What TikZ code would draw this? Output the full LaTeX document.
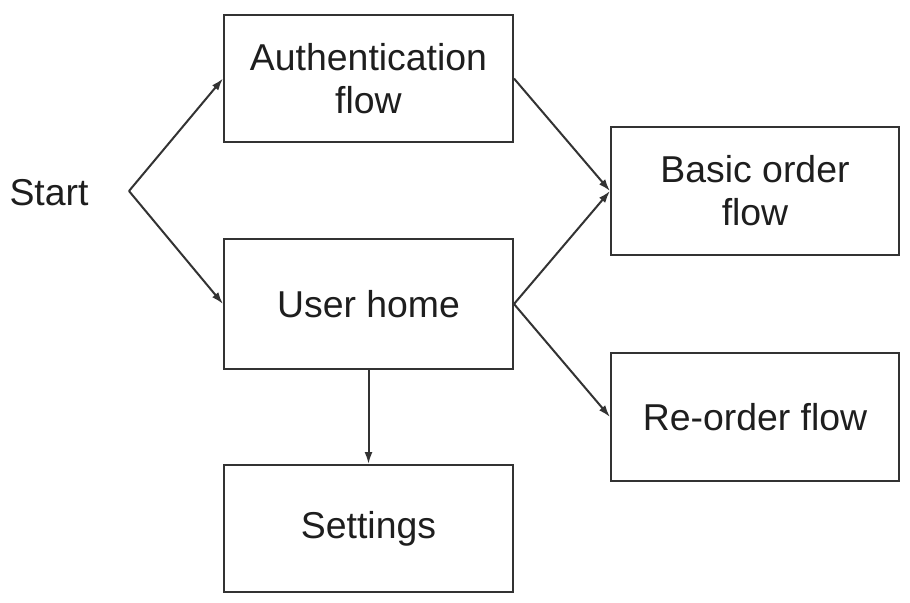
\documentclass[tikz,border=0pt]{standalone}
\usepackage{fontspec}
\setmainfont{Liberation Sans}
\usetikzlibrary{arrows.meta}
\definecolor{linec}{HTML}{333333}
\definecolor{textc}{HTML}{1E1E1E}
\begin{document}
\begin{tikzpicture}[x=0.5pt,y=-0.5pt,
  box/.style={draw=linec, line width=1pt, fill=white, minimum width=144.5pt, minimum height=63.5pt,
    inner sep=0pt, align=center, text=textc, font=\fontsize{18.7}{21.5}\selectfont},
  conn/.style={draw=linec, line width=1pt, -{Latex[length=6pt,width=4pt]}}]
\useasboundingbox (0,0) rectangle (910,602);
\node[text=textc, font=\fontsize{18.7}{21.5}\selectfont] (start) at (49,193) {Start};
\coordinate (fork) at (129,191);
\node[box] (auth) at (368.5,78.5) {\raisebox{-1pt}{\parbox{140pt}{\centering Authentication\\flow}}};
\node[box, minimum height=65pt] (user) at (368.5,304) {User home};
\node[box] (settings) at (368.5,528.5) {Settings};
\node[box, minimum width=144pt, minimum height=64pt] (basic) at (755,191) {\raisebox{-1pt}{\parbox{140pt}{\centering Basic order\\flow}}};
\node[box, minimum width=144pt, minimum height=64pt] (reorder) at (755,417) {Re-order flow};
\draw[conn] (fork) -- (auth.west);
\draw[conn] (fork) -- (user.west);
\draw[conn] (auth.east) -- (basic.west);
\draw[conn] (user.east) -- (basic.west);
\draw[conn] (user.east) -- (reorder.west);
\draw[conn] (user.south) -- (settings.north);
\end{tikzpicture}
\end{document}
